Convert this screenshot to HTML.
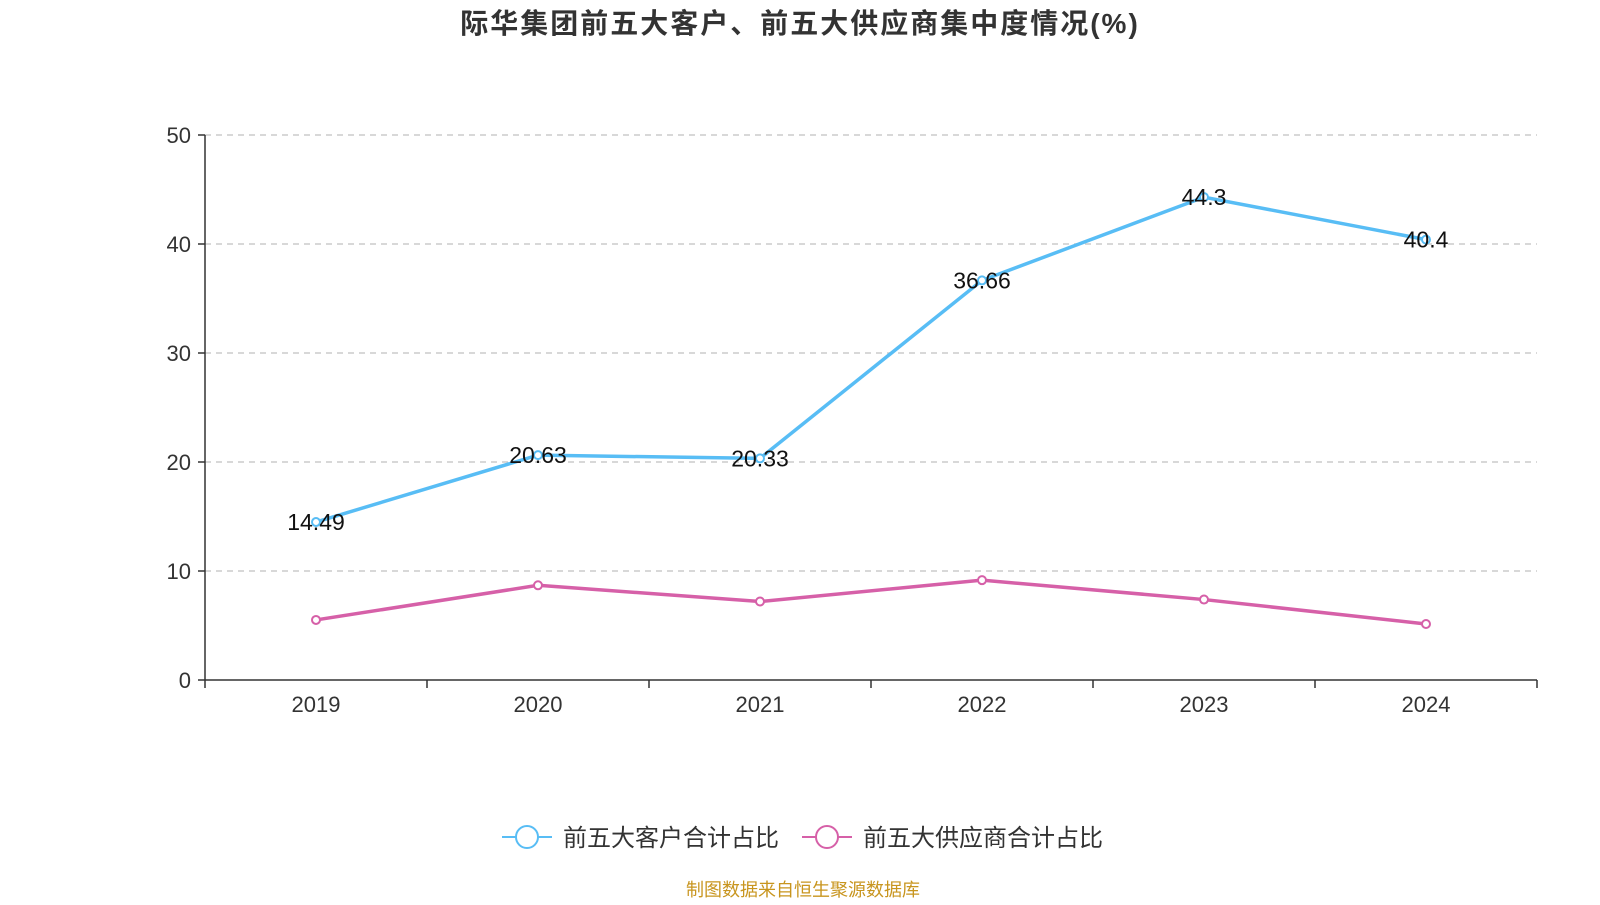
<!DOCTYPE html>
<html><head><meta charset="utf-8">
<style>
body{margin:0;background:#fff;width:1600px;height:900px;overflow:hidden;font-family:"Liberation Sans","Noto Sans CJK SC",sans-serif;}
</style></head><body>
<svg id="chart" width="1600" height="900" xmlns="http://www.w3.org/2000/svg" font-family="Liberation Sans, Noto Sans CJK SC, sans-serif">
<text x="800" y="33" text-anchor="middle" font-size="28" letter-spacing="2" font-weight="bold" fill="#333">际华集团前五大客户、前五大供应商集中度情况(%)</text>
<g id="grid"></g><g id="axes"></g><g id="series"></g>
<g>
<g>
<line x1="502" y1="837" x2="552" y2="837" stroke="#58bdf5" stroke-width="2"/>
<circle cx="527" cy="837" r="11" fill="#fff" stroke="#58bdf5" stroke-width="2"/>
<text x="563" y="846" font-size="24" fill="#333">前五大客户合计占比</text></g>
<g>
<line x1="802" y1="837" x2="852" y2="837" stroke="#d660a8" stroke-width="2"/>
<circle cx="827" cy="837" r="11" fill="#fff" stroke="#d660a8" stroke-width="2"/>
<text x="863" y="846" font-size="24" fill="#333">前五大供应商合计占比</text></g>
</g>
<text x="803" y="896" text-anchor="middle" font-size="18" fill="#c8951e">制图数据来自恒生聚源数据库</text>
</svg>
<script>
const years=["2019","2020","2021","2022","2023","2024"];
const customers=[14.49,20.63,20.33,36.66,44.3,40.4];
const suppliers=[5.51,8.69,7.2,9.16,7.38,5.14];
const yTicks=[0,10,20,30,40,50];
const NS="http://www.w3.org/2000/svg";
const L=205,R=1537,T=135,B=680;
const band=(R-L)/years.length;
const xs=i=>L+band*(i+0.5);
const ys=v=>B-(v/50)*(B-T);
function mk(tag,a,p){const e=document.createElementNS(NS,tag);for(const k in a)e.setAttribute(k,a[k]);p.appendChild(e);return e;}
const grid=document.getElementById('grid'),axes=document.getElementById('axes'),ser=document.getElementById('series');
yTicks.forEach(t=>{
 if(t>0){const g=mk('line',{x1:L,x2:R,y1:ys(t),y2:ys(t),stroke:'#ccc','stroke-width':1.5,'stroke-dasharray':'6,5'},grid);
 
 }
 mk('line',{x1:L-7,x2:L,y1:ys(t),y2:ys(t),stroke:'#333','stroke-width':1.5},axes);
 const tx=mk('text',{x:L-14,y:ys(t)+8,'text-anchor':'end','font-size':22,fill:'#333'},axes);tx.textContent=t;
 
 
});
mk('line',{x1:L,x2:L,y1:T,y2:B,stroke:'#333','stroke-width':1.5},axes);
mk('line',{x1:L,x2:R,y1:B,y2:B,stroke:'#333','stroke-width':1.5},axes);
for(let i=0;i<=years.length;i++)mk('line',{x1:L+band*i,x2:L+band*i,y1:B,y2:B+8,stroke:'#333','stroke-width':1.5},axes);
years.forEach((y,i)=>{const t=mk('text',{x:xs(i),y:B+32,'text-anchor':'middle','font-size':22,fill:'#333'},axes);t.textContent=y;
 
 });
function line(vals,color,name,labels){
 const pl=mk('polyline',{points:vals.map((v,i)=>xs(i)+','+ys(v)).join(' '),fill:'none',stroke:color,'stroke-width':3.5},ser);
 
 
 vals.forEach((v,i)=>{const c=mk('circle',{cx:xs(i),cy:ys(v),r:4,fill:'#fff',stroke:color,'stroke-width':2},ser);
  
  
  if(labels){const t=mk('text',{x:xs(i),y:ys(v)+8,'text-anchor':'middle','font-size':23,fill:'#111'},ser);t.textContent=v;
   
   }
 });
}
line(suppliers,'#d660a8','suppliers',false);
line(customers,'#58bdf5','customers',true);
</script>
</body></html>
